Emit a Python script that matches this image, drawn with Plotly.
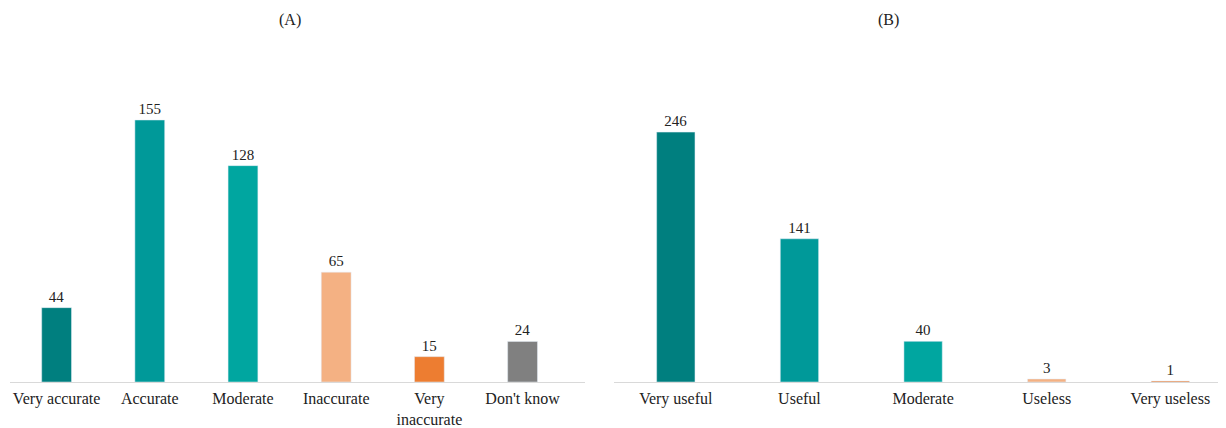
import plotly.graph_objects as go

cats_a = ["Very accurate", "Accurate", "Moderate", "Inaccurate", "Very<br>inaccurate", "Don't know"]
vals_a = [44, 155, 128, 65, 15, 24]
colors_a = ["#007f7f", "#009999", "#00a6a0", "#f4b183", "#ed7d31", "#808080"]

cats_b = ["Very useful", "Useful", "Moderate", "Useless", "Very useless"]
vals_b = [246, 141, 40, 3, 1]
colors_b = ["#007f7f", "#009999", "#00a6a0", "#f4b183", "#ed7d31"]

fam = "Liberation Serif, Times New Roman, serif"
font = dict(family=fam, size=15, color="#222222")
tfont = dict(family=fam, size=16, color="#222222")

fig = go.Figure()
fig.add_trace(go.Bar(x=cats_a, y=vals_a, marker_color=colors_a, width=0.32,
                     text=vals_a, textposition="outside", cliponaxis=False,
                     textfont=font, xaxis="x", yaxis="y", showlegend=False))
fig.add_trace(go.Bar(x=cats_b, y=vals_b, marker_color=colors_b, width=0.31,
                     text=vals_b, textposition="outside", cliponaxis=False,
                     textfont=font, xaxis="x2", yaxis="y2", showlegend=False))

W, H = 1226, 428
OFF = 8  # page body margin
ybot = (H - (382 - OFF)) / H
ytop = (H - (60 - OFF)) / H

fig.update_layout(
    width=W, height=H, margin=dict(l=0, r=0, t=0, b=0),
    paper_bgcolor="white", plot_bgcolor="white", font=font,
    xaxis=dict(domain=[(10 - OFF) / W, (585 - OFF) / W], range=[-0.5, 5.67], showline=True,
               linecolor="#d9d9d9", linewidth=1, ticks="", showgrid=False,
               tickfont=tfont, ticklabelstandoff=2, anchor="y"),
    yaxis=dict(domain=[ybot, ytop], range=[0, 190.5], visible=False, anchor="x"),
    xaxis2=dict(domain=[(614 - OFF) / W, (1226 - OFF) / W], range=[-0.5, 4.45], showline=True,
                linecolor="#d9d9d9", linewidth=1, ticks="", showgrid=False,
                tickfont=tfont, ticklabelstandoff=2, anchor="y2"),
    yaxis2=dict(domain=[ybot, ytop], range=[0, 317], visible=False, anchor="x2"),
    annotations=[
        dict(text="(A)", x=(290 - OFF) / W, y=1 - (20 - OFF) / H, xref="paper", yref="paper",
             showarrow=False, font=tfont, xanchor="center", yanchor="middle"),
        dict(text="(B)", x=(888 - OFF) / W, y=1 - (20 - OFF) / H, xref="paper", yref="paper",
             showarrow=False, font=tfont, xanchor="center", yanchor="middle"),
    ],
)

fig.write_html("out.html")
